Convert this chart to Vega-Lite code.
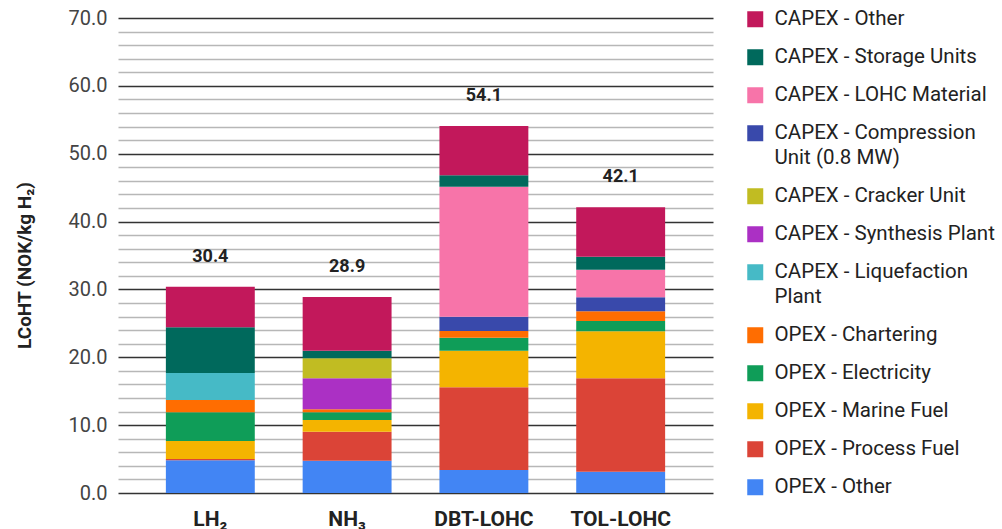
{
  "$schema": "https://vega.github.io/schema/vega-lite/v6.json",
  "autosize": {"type": "none"},
  "width": 595,
  "height": 475,
  "padding": {"left": 118, "top": 18, "right": 289, "bottom": 36},
  "background": "white",
  "config": {"font": "Roboto", "view": {"stroke": null}},
  "data": {"values": [
    {"cat": "LH₂", "c": "OPEX - Other", "v": 4.82},
    {"cat": "LH₂", "c": "OPEX - Process Fuel", "v": 0.2},
    {"cat": "LH₂", "c": "OPEX - Marine Fuel", "v": 2.65},
    {"cat": "LH₂", "c": "OPEX - Electricity", "v": 4.23},
    {"cat": "LH₂", "c": "OPEX - Chartering", "v": 1.81},
    {"cat": "LH₂", "c": "CAPEX - Liquefaction Plant", "v": 3.98},
    {"cat": "LH₂", "c": "CAPEX - Storage Units", "v": 6.74},
    {"cat": "LH₂", "c": "CAPEX - Other", "v": 5.97},
    {"cat": "NH₃", "c": "OPEX - Other", "v": 4.76},
    {"cat": "NH₃", "c": "OPEX - Process Fuel", "v": 4.27},
    {"cat": "NH₃", "c": "OPEX - Marine Fuel", "v": 1.73},
    {"cat": "NH₃", "c": "OPEX - Electricity", "v": 1.13},
    {"cat": "NH₃", "c": "OPEX - Chartering", "v": 0.44},
    {"cat": "NH₃", "c": "CAPEX - Synthesis Plant", "v": 4.57},
    {"cat": "NH₃", "c": "CAPEX - Cracker Unit", "v": 2.95},
    {"cat": "NH₃", "c": "CAPEX - Storage Units", "v": 1.12},
    {"cat": "NH₃", "c": "CAPEX - Other", "v": 7.93},
    {"cat": "DBT-LOHC", "c": "OPEX - Other", "v": 3.39},
    {"cat": "DBT-LOHC", "c": "OPEX - Process Fuel", "v": 12.19},
    {"cat": "DBT-LOHC", "c": "OPEX - Marine Fuel", "v": 5.39},
    {"cat": "DBT-LOHC", "c": "OPEX - Electricity", "v": 1.92},
    {"cat": "DBT-LOHC", "c": "OPEX - Chartering", "v": 0.98},
    {"cat": "DBT-LOHC", "c": "CAPEX - Compression Unit (0.8 MW)", "v": 2.11},
    {"cat": "DBT-LOHC", "c": "CAPEX - LOHC Material", "v": 19.16},
    {"cat": "DBT-LOHC", "c": "CAPEX - Storage Units", "v": 1.68},
    {"cat": "DBT-LOHC", "c": "CAPEX - Other", "v": 7.28},
    {"cat": "TOL-LOHC", "c": "OPEX - Other", "v": 3.14},
    {"cat": "TOL-LOHC", "c": "OPEX - Process Fuel", "v": 13.76},
    {"cat": "TOL-LOHC", "c": "OPEX - Marine Fuel", "v": 6.93},
    {"cat": "TOL-LOHC", "c": "OPEX - Electricity", "v": 1.52},
    {"cat": "TOL-LOHC", "c": "OPEX - Chartering", "v": 1.43},
    {"cat": "TOL-LOHC", "c": "CAPEX - Compression Unit (0.8 MW)", "v": 2.06},
    {"cat": "TOL-LOHC", "c": "CAPEX - LOHC Material", "v": 4.07},
    {"cat": "TOL-LOHC", "c": "CAPEX - Storage Units", "v": 1.91},
    {"cat": "TOL-LOHC", "c": "CAPEX - Other", "v": 7.28}
  ]},
  "encoding": {
    "x": {
      "field": "cat", "type": "nominal", "sort": ["LH₂", "NH₃", "DBT-LOHC", "TOL-LOHC"],
      "scale": {"paddingInner": 0.35, "paddingOuter": 0.35},
      "axis": {"title": null, "labelAngle": 0, "ticks": false, "domain": false, "labelPadding": 15,
        "labelFontSize": 21, "labelFontWeight": "bold", "labelColor": "#222", "labelFont": "Roboto"}
    }
  },
  "layer": [
    {
      "transform": [
        {"calculate": "indexof(['CAPEX - Other','CAPEX - Storage Units','CAPEX - LOHC Material','CAPEX - Compression Unit (0.8 MW)','CAPEX - Cracker Unit','CAPEX - Synthesis Plant','CAPEX - Liquefaction Plant','OPEX - Chartering','OPEX - Electricity','OPEX - Marine Fuel','OPEX - Process Fuel','OPEX - Other'], datum.c)", "as": "idx"}
      ],
      "mark": {"type": "bar"},
      "encoding": {
        "y": {
          "field": "v", "type": "quantitative", "stack": "zero",
          "scale": {"domain": [0, 70], "nice": false},
          "axis": {
            "title": "LCoHT (NOK/kg H₂)",
            "values": [0,2,4,6,8,10,12,14,16,18,20,22,24,26,28,30,32,34,36,38,40,42,44,46,48,50,52,54,56,58,60,62,64,66,68,70],
            "labelExpr": "datum.value % 10 == 0 ? format(datum.value, '.1f') : ''",
            "labelOverlap": false,
            "ticks": false, "domain": false,
            "gridColor": {"condition": {"test": "datum.value % 10 == 0", "value": "#333333"}, "value": "#b7b7b7"},
            "gridWidth": 1.3,
            "labelFontSize": 20, "labelColor": "#444", "labelPadding": 11, "labelFont": "Roboto",
            "titleFontSize": 19, "titleFontWeight": "bold", "titleColor": "#222", "titleFont": "Roboto",
            "titleX": -94, "titleY": 247, "titleAngle": 270, "titleAlign": "center", "titleBaseline": "middle"
          }
        },
        "color": {
          "field": "c", "type": "nominal",
          "scale": {
            "domain": ["CAPEX - Other","CAPEX - Storage Units","CAPEX - LOHC Material","CAPEX - Compression Unit (0.8 MW)","CAPEX - Cracker Unit","CAPEX - Synthesis Plant","CAPEX - Liquefaction Plant","OPEX - Chartering","OPEX - Electricity","OPEX - Marine Fuel","OPEX - Process Fuel","OPEX - Other"],
            "range": ["#C2185B","#00695C","#F774A9","#3949AB","#C1BC22","#AB30C4","#46BAC6","#FF6D01","#0F9D58","#F4B400","#DB4437","#4285F4"]
          },
          "legend": {
            "title": null, "orient": "none", "legendX": 627, "legendY": -9,
            "symbolType": "square", "symbolSize": 256, "symbolStrokeWidth": 0,
            "labelFontSize": 20.5, "labelColor": "#222", "labelFont": "Roboto", "labelLimit": 400,
            "labelOffset": 9, "rowPadding": 17,
            "labelExpr": "datum.label == 'CAPEX - Compression Unit (0.8 MW)' ? ['CAPEX - Compression', 'Unit (0.8 MW)'] : datum.label == 'CAPEX - Liquefaction Plant' ? ['CAPEX - Liquefaction', 'Plant'] : datum.label",
            "encode": {"labels": {"update": {"lineHeight": {"value": 25}}}}
          }
        },
        "order": {"field": "idx", "type": "quantitative", "sort": "descending"}
      }
    },
    {
      "transform": [{"aggregate": [{"op": "sum", "field": "v", "as": "total"}], "groupby": ["cat"]}],
      "mark": {"type": "text", "dy": -30, "baseline": "middle", "fontSize": 18, "fontWeight": "bold", "color": "#222", "font": "Roboto"},
      "encoding": {
        "y": {
          "field": "total", "type": "quantitative",
          "axis": {
            "title": "LCoHT (NOK/kg H₂)",
            "values": [0,2,4,6,8,10,12,14,16,18,20,22,24,26,28,30,32,34,36,38,40,42,44,46,48,50,52,54,56,58,60,62,64,66,68,70],
            "labelExpr": "datum.value % 10 == 0 ? format(datum.value, '.1f') : ''",
            "labelOverlap": false,
            "ticks": false, "domain": false,
            "gridColor": {"condition": {"test": "datum.value % 10 == 0", "value": "#333333"}, "value": "#b7b7b7"},
            "gridWidth": 1.3,
            "labelFontSize": 20, "labelColor": "#444", "labelPadding": 11, "labelFont": "Roboto",
            "titleFontSize": 19, "titleFontWeight": "bold", "titleColor": "#222", "titleFont": "Roboto",
            "titleX": -94, "titleY": 247, "titleAngle": 270, "titleAlign": "center", "titleBaseline": "middle"
          }
        },
        "text": {"field": "total", "type": "quantitative", "format": ".1f"}
      }
    }
  ]
}
